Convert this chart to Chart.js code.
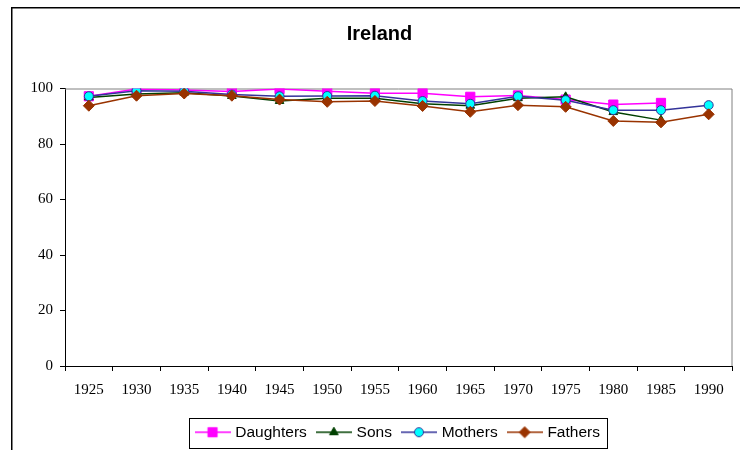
<!DOCTYPE html>
<html>
<head>
<meta charset="utf-8">
<script src="https://cdn.jsdelivr.net/npm/chart.js@4/dist/chart.umd.min.js"></script>
<style>
  html, body { margin: 0; padding: 0; background: #fff; }
  #wrap { position: absolute; left: 0; top: 0; width: 740px; height: 450px; }
</style>
</head>
<body>
<div id="wrap"><canvas id="c" width="740" height="450"></canvas></div>
<script>
const years = ['1925','1930','1935','1940','1945','1950','1955','1960','1965','1970','1975','1980','1985','1990'];
const daughters = [97.2, 99.8, 99.5, 98.9, 99.8, 99.0, 98.3, 98.3, 97.0, 97.5, 96.0, 94.2, 94.8, null];
const sons      = [96.8, 98.0, 98.5, 97.3, 95.5, 96.5, 96.5, 94.5, 93.8, 96.5, 97.0, 91.5, 88.6, null];
const mothers   = [97.2, 99.2, 99.0, 97.8, 97.2, 97.3, 97.4, 95.5, 94.5, 97.2, 95.8, 92.2, 92.2, 94.0];
const fathers   = [93.8, 97.4, 98.2, 97.4, 96.0, 95.2, 95.5, 93.7, 91.6, 94.0, 93.4, 88.3, 87.8, 90.7];
const yTicks = [0, 20, 40, 60, 80, 100];

const series = [
  {label: 'Daughters', data: daughters, line: '#FF00FF', fill: '#FF00FF', stroke: '#FF00FF', style: 'rect', r: 6.5, order: 3},
  {label: 'Sons', data: sons, line: '#004000', fill: '#004000', stroke: '#004000', style: 'triangle', r: 5, order: 2},
  {label: 'Mothers', data: mothers, line: '#333399', fill: '#00FFFF', stroke: '#333399', style: 'circle', r: 4.5, order: 1},
  {label: 'Fathers', data: fathers, line: '#993300', fill: '#993300', stroke: '#993300', style: 'rectRot', r: 5.5, order: 0}
];

function legendIcon(s) {
  const cv = document.createElement('canvas');
  cv.width = 36; cv.height = 14;
  const g = cv.getContext('2d');
  g.strokeStyle = s.line; g.lineWidth = 1.5;
  g.beginPath(); g.moveTo(0, 7); g.lineTo(36, 7); g.stroke();
  g.fillStyle = s.fill; g.strokeStyle = s.stroke; g.lineWidth = 1;
  Chart.helpers.drawPoint(g, {pointStyle: s.style, radius: s.r, borderWidth: 1, rotation: 0}, 18, 7);
  return cv;
}

const frame = {
  id: 'frame',
  afterLayout(chart) {
    const t = chart.titleBlock;
    if (t) { t.left = 11; t.right = 748; t.width = 737; }
  },
  beforeDraw(chart) {
    const c = chart.ctx;
    c.save();
    c.fillStyle = '#fff'; c.fillRect(0, 0, chart.width, chart.height);
    c.strokeStyle = '#000'; c.lineWidth = 1.5;
    c.beginPath(); c.moveTo(11.75, 450); c.lineTo(11.75, 7.75); c.lineTo(740, 7.75); c.stroke();
    c.restore();
  },
  beforeDatasetsDraw(chart) {
    const a = chart.chartArea, c = chart.ctx;
    c.save();
    c.strokeStyle = '#808080'; c.lineWidth = 1;
    c.beginPath(); c.moveTo(a.left, a.top + 0.5); c.lineTo(a.right - 0.5, a.top + 0.5); c.lineTo(a.right - 0.5, a.bottom); c.stroke();
    c.restore();
  },
  afterDraw(chart) {
    const hb = chart.legend && chart.legend.legendHitBoxes;
    if (!hb || !hb.length) return;
    const c = chart.ctx;
    const first = hb[0], last = hb[hb.length - 1];
    const cy = first.top + first.height / 2;
    const x0 = Math.round(first.left - 9) + 0.5, x1 = Math.round(last.left + last.width + 7) + 0.5;
    const y0 = Math.round(cy - 14) + 0.5, y1 = Math.round(cy + 16) + 0.5;
    c.save(); c.strokeStyle = '#000'; c.lineWidth = 1;
    c.strokeRect(x0, y0, x1 - x0, y1 - y0);
    c.restore();
  }
};

new Chart(document.getElementById('c'), {
  type: 'line',
  data: {
    labels: years,
    datasets: series.map(s => ({
      label: s.label, data: s.data, order: s.order,
      borderColor: s.line, borderWidth: 1.5, backgroundColor: s.fill,
      pointStyle: s.style, pointRadius: s.r, pointHoverRadius: s.r,
      pointBackgroundColor: s.fill, pointBorderColor: s.stroke, pointBorderWidth: 1,
      tension: 0, fill: false, spanGaps: false
    }))
  },
  options: {
    responsive: false, animation: false, devicePixelRatio: 1,
    layout: {padding: {left: 0, right: 7, top: 0, bottom: 0}},
    plugins: {
      tooltip: {enabled: false},
      title: {display: true, text: 'Ireland', color: '#000',
        font: {family: 'Liberation Sans', size: 20, weight: 'bold', lineHeight: 1.2},
        padding: {top: 22, bottom: 42.5}},
      legend: {
        position: 'bottom', fullSize: false,
        labels: {
          usePointStyle: true, pointStyleWidth: 30, padding: 12, color: '#000',
          font: {family: 'Liberation Sans', size: 15.5},
          generateLabels: (chart) => series.map((s, i) => ({
            text: s.label, datasetIndex: i, pointStyle: legendIcon(s),
            fillStyle: s.fill, strokeStyle: s.stroke, lineWidth: 0, hidden: false, fontColor: '#000'
          }))
        }
      }
    },
    scales: {
      x: {
        type: 'category', offset: true,
        afterFit: (s) => { s.height = 46.5; },
        grid: {offset: true, drawOnChartArea: false, drawTicks: true, tickLength: 5, color: '#000', lineWidth: 1},
        border: {color: '#000', width: 1},
        ticks: {color: '#000', padding: 10, maxRotation: 0, autoSkip: false,
          font: {family: 'Liberation Serif', size: 15}}
      },
      y: {
        min: 0, max: 100,
        afterFit: (s) => { s.width = 65; },
        afterBuildTicks: (s) => { s.ticks = yTicks.map(v => ({value: v})); },
        grid: {drawOnChartArea: false, drawTicks: true, tickLength: 5, color: '#000', lineWidth: 1},
        border: {color: '#000', width: 1},
        ticks: {color: '#000', padding: 7, font: {family: 'Liberation Serif', size: 15}}
      }
    }
  },
  plugins: [frame]
});
</script>
</body>
</html>
